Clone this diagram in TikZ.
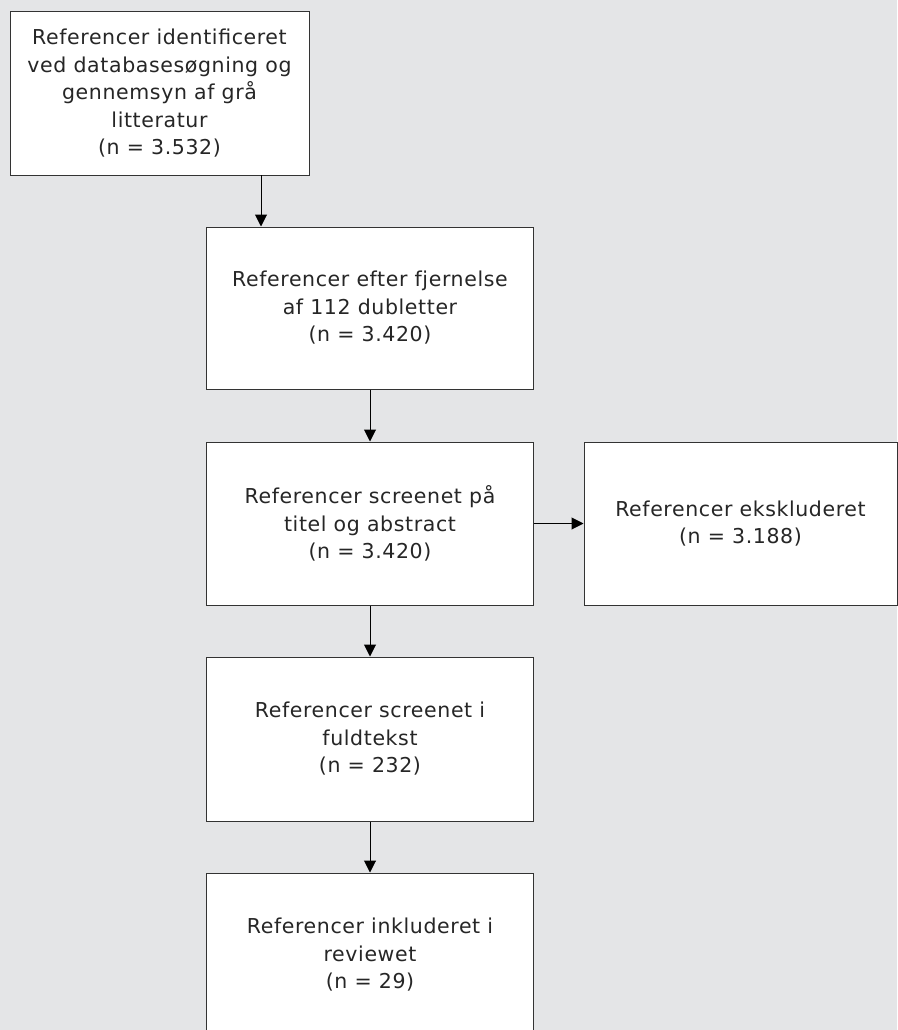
\documentclass[tikz,border=0pt]{standalone}
\usepackage{fontspec}
\setmainfont[LetterSpace=3]{DejaVu Sans}
\usetikzlibrary{arrows.meta}
\definecolor{bg}{HTML}{E4E5E7}
\definecolor{bd}{HTML}{333333}
\tikzset{
  box/.style={draw=bd, fill=white, line width=1pt, rectangle, inner sep=0pt,
    align=center, font=\fontsize{20.5}{27.5}\selectfont, text=black!85},
  conn/.style={draw=black, line width=1pt, -{Triangle[length=12pt,width=12pt]}}
}
\begin{document}
\begin{tikzpicture}[x=1pt,y=-1pt]
\fill[bg] (0,0) rectangle (897,1030);
\useasboundingbox (0,0) rectangle (897,1030);
\node[box, minimum width=299pt, minimum height=163pt] (b1) at (159.5,93.5)
  {Referencer identificeret\\ved databasesøgning og\\gennemsyn af grå\\litteratur\\(n = 3.532)};
\node[box, minimum width=327pt, minimum height=162pt] (b2) at (370,308)
  {Referencer efter fjernelse\\af 112 dubletter\\(n = 3.420)};
\node[box, minimum width=327pt, minimum height=163pt] (b3) at (370,523.5)
  {Referencer screenet på\\titel og abstract\\(n = 3.420)};
\node[box, minimum width=313pt, minimum height=163pt] (b4) at (740.5,523.5)
  {Referencer ekskluderet\\(n = 3.188)};
\node[box, minimum width=327pt, minimum height=164pt] (b5) at (370,739)
  {Referencer screenet i\\fuldtekst\\(n = 232)};
\node[box, minimum width=327pt, minimum height=164pt] (b6) at (370,955)
  {Referencer inkluderet i\\reviewet\\(n = 29)};
\coordinate (a1) at (261,175);
\draw[conn] (a1) -- (a1 |- b2.north);
\draw[conn] (b2) -- (b3);
\draw[conn] (b3) -- (b4);
\draw[conn] (b3) -- (b5);
\draw[conn] (b5) -- (b6);
\end{tikzpicture}
\end{document}
